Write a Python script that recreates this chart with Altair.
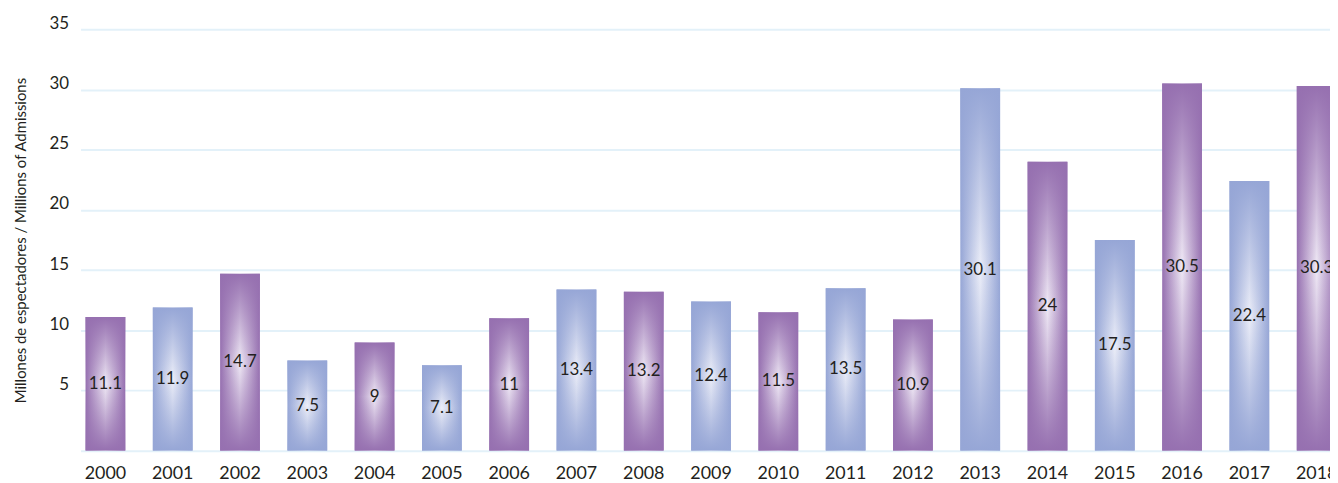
import altair as alt
import pandas as pd

years = [str(y) for y in range(2000, 2019)]
values = [11.1, 11.9, 14.7, 7.5, 9, 7.1, 11, 13.4, 13.2, 12.4, 11.5, 13.5, 10.9,
          30.1, 24, 17.5, 30.5, 22.4, 30.3]
groups = ["p" if i % 2 == 0 else "b" for i in range(len(years))]
labels = ["11.1", "11.9", "14.7", "7.5", "9", "7.1", "11", "13.4", "13.2", "12.4",
          "11.5", "13.5", "10.9", "30.1", "24", "17.5", "30.5", "22.4", "30.3"]

df = pd.DataFrame({"year": years, "v": values, "g": groups, "lab": labels})

FONT = "Lato"
TXT = "#231f20"
P_EDGE, P_MID = "#9670b0", "#efe9f5"
B_EDGE, B_MID = "#96a6d6", "#eceef8"


def hgrad(edge, mid):
    return alt.LinearGradient(
        gradient="linear", x1=0, x2=1, y1=0, y2=0,
        stops=[alt.GradientStop(color=edge, offset=0),
               alt.GradientStop(color=mid, offset=0.5),
               alt.GradientStop(color=edge, offset=1)])


def vgrad(rgb):
    r, g, b = rgb
    return alt.LinearGradient(
        gradient="linear", x1=0, x2=0, y1=0, y2=1,
        stops=[alt.GradientStop(color=f"rgba({r},{g},{b},1)", offset=0),
               alt.GradientStop(color=f"rgba({r},{g},{b},0)", offset=0.5),
               alt.GradientStop(color=f"rgba({r},{g},{b},1)", offset=1)])


xenc = alt.X("year:N", sort=years, title=None,
             scale=alt.Scale(range=[0, 1268.6], paddingInner=0.409, paddingOuter=0.074),
             axis=alt.Axis(labelAngle=0, domain=False, ticks=False, grid=False,
                           labelFont=FONT, labelFontSize=18, labelColor=TXT,
                           labelPadding=14))
yenc = alt.Y("v:Q", title="Millones de espectadores / Millions of Admissions",
             scale=alt.Scale(domain=[0, 35], nice=False),
             axis=alt.Axis(values=[0, 5, 10, 15, 20, 25, 30, 35],
                           labelExpr="datum.value == 0 ? '' : datum.label",
                           domain=False, ticks=False, grid=True,
                           gridColor="#e3f1f9", gridWidth=2,
                           labelFont=FONT, labelFontSize=17, labelColor=TXT,
                           labelPadding=12, labelOffset=-6,
                           titleFont=FONT, titleFontSize=15, titleFontWeight="normal",
                           titleColor=TXT, titlePadding=21))

base = alt.Chart(df)

p_bar = base.transform_filter("datum.g == 'p'").mark_bar(
    color=hgrad(P_EDGE, P_MID), clip=True).encode(x=xenc, y=yenc)
b_bar = base.transform_filter("datum.g == 'b'").mark_bar(
    color=hgrad(B_EDGE, B_MID), clip=True).encode(x=xenc, y=yenc)
p_ov = base.transform_filter("datum.g == 'p'").mark_bar(
    color=vgrad((150, 112, 176)), clip=True).encode(x=xenc, y=yenc)
b_ov = base.transform_filter("datum.g == 'b'").mark_bar(
    color=vgrad((150, 166, 214)), clip=True).encode(x=xenc, y=yenc)

txt = base.transform_calculate(mid="datum.v / 2").mark_text(
    font=FONT, fontSize=17, color=TXT, baseline="middle", align="center"
).encode(x=xenc, y=alt.Y("mid:Q"), text="lab:N")

chart = alt.layer(p_bar, b_bar, p_ov, b_ov, txt).properties(
    width=1257, height=424,
    autosize=alt.AutoSizeParams(type="none"),
    padding={"left": 73, "top": 20, "right": 0, "bottom": 31},
).configure_view(stroke=None)

chart.save("out.html", embed_options={"renderer": "svg", "actions": False})
